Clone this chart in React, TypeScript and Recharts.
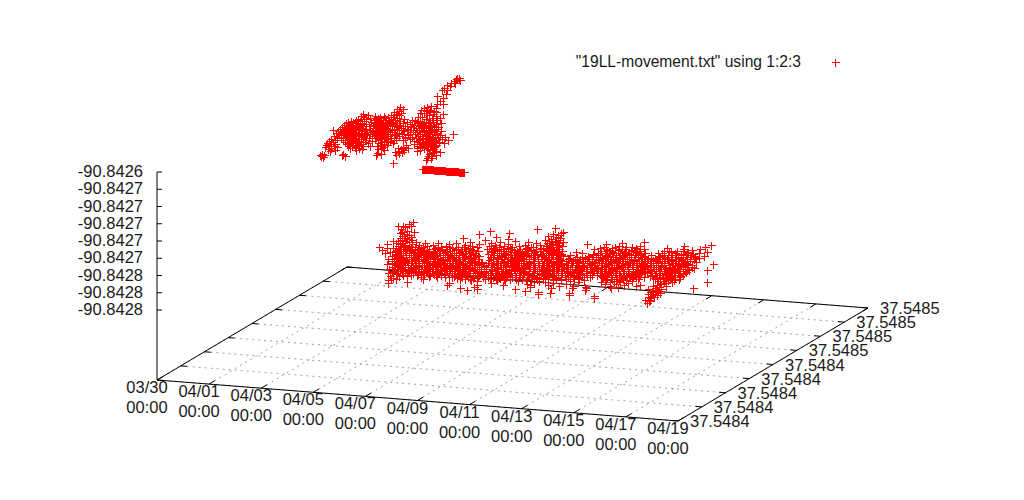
import { ScatterChart, Scatter, XAxis, YAxis, ReferenceLine } from "recharts";

const seriesName = '"19LL-movement.txt" using 1:2:3';
const dateTop = ["03/30", "04/01", "04/03", "04/05", "04/07", "04/09", "04/11", "04/13", "04/15", "04/17", "04/19"];
const dateBottom = ["00:00", "00:00", "00:00", "00:00", "00:00", "00:00", "00:00", "00:00", "00:00", "00:00", "00:00"];
const latLabels = ["37.5484", "37.5484", "37.5484", "37.5484", "37.5484", "37.5485", "37.5485", "37.5485", "37.5485"];
const lonLabels = ["-90.8426", "-90.8427", "-90.8427", "-90.8427", "-90.8427", "-90.8427", "-90.8428", "-90.8428", "-90.8428"];

// each row: [view y, view x values]
const upperCloud: [number, number[]][] = [
  [78, [459, 457]], [79, [456]], [80, [460]], [81, [454]], [83, [451, 455]], [85, [447]], [86, [450]], [88, [444]],
  [90, [447, 442]], [94, [446]], [96, [437]], [98, [443]], [101, [440]], [104, [437, 443]], [106, [431]],
  [107, [400, 427]], [108, [424, 436]], [109, [397, 403]], [110, [421, 430]], [111, [399, 434, 426]], [112, [394, 436, 429]],
  [113, [401, 420, 424]], [114, [363, 396, 433, 443]], [115, [368, 391, 399, 427]], [116, [361, 375, 384, 436]],
  [117, [364, 380, 393, 388, 418, 422]], [118, [378, 370, 385, 397, 432, 440]], [119, [358, 366, 376, 391, 404, 426]],
  [120, [356, 374, 381, 386, 395, 412, 429, 437]], [121, [351, 360, 364, 378, 389, 400, 420, 415]],
  [122, [353, 348, 371, 383, 392, 407, 424, 433]], [123, [346, 356, 362, 375, 380, 387, 396, 403, 418, 428, 441]],
  [124, [349, 358, 366, 377, 385, 390, 410, 422, 436]], [125, [344, 352, 360, 373, 382, 394, 399, 414, 426, 431]],
  [126, [347, 355, 363, 369, 379, 388, 392, 405, 419, 434]], [127, [342, 351, 358, 376, 384, 397, 411, 423, 429, 438]],
  [128, [345, 349, 354, 361, 373, 381, 386, 401, 416, 426, 421]], [129, [340, 356, 347, 365, 378, 390, 394, 407, 431, 436]],
  [130, [333, 343, 352, 359, 370, 375, 383, 399, 413, 419, 428]], [131, [338, 346, 350, 362, 372, 380, 388, 404, 424, 434, 441]],
  [132, [341, 355, 348, 367, 377, 385, 392, 410, 417, 430, 422]], [133, [336, 344, 353, 358, 364, 374, 382, 397, 427, 437]],
  [134, [339, 347, 351, 361, 370, 379, 390, 402, 415, 420, 432, 453]], [135, [343, 356, 349, 366, 376, 384, 394, 408, 425, 435, 440]],
  [136, [334, 346, 353, 359, 372, 381, 387, 399, 418, 429, 422]], [137, [341, 350, 363, 378, 384, 405, 412, 433, 438, 445]],
  [138, [337, 345, 355, 348, 369, 375, 391, 396, 416, 426, 420]], [139, [331, 352, 358, 361, 380, 386, 410, 423, 431, 442]],
  [140, [335, 343, 347, 355, 366, 378, 394, 403, 419, 428, 436, 448]], [141, [329, 350, 359, 372, 384, 390, 414, 425, 433]],
  [142, [333, 345, 353, 363, 381, 388, 417, 422, 430, 439]], [143, [327, 349, 356, 368, 378, 393, 420, 427, 436, 444]],
  [144, [331, 335, 347, 361, 384, 414, 424, 432, 419]], [145, [326, 352, 358, 380, 387, 406, 428, 436, 422]],
  [146, [329, 334, 348, 363, 370, 377, 417, 426, 431]], [147, [325, 337, 355, 383, 403, 420, 434, 428]],
  [148, [331, 350, 359, 381, 408, 398, 424, 417]], [149, [328, 362, 378, 401, 427, 433]], [150, [335, 356, 384, 404, 420, 430]],
  [151, [330, 398, 417, 436]], [152, [395, 402, 434, 440]], [153, [377, 399, 432]], [154, [322, 343, 381, 429]],
  [155, [320, 324, 342, 376, 396, 436]], [156, [321, 345, 432, 428]], [157, [323]], [158, [427, 431]], [160, [426]], [163, [393]],
];

const stripCloud: [number, number[]][] = [
  [169, [422, 423, 424, 425, 426, 427, 428, 429, 430, 431, 432, 433]],
  [170, [434, 435, 436, 437, 438, 439, 440, 441, 442, 443, 444, 445]],
  [171, [446, 447, 448, 449, 450, 451, 452, 453, 454, 455, 456, 457, 458]],
  [172, [459, 460, 461, 462, 463, 464]],
];

const lowerCloud: [number, number[]][] = [
  [222, [413]], [224, [409]], [226, [403, 398, 411]], [227, [405]], [228, [555]], [229, [537, 401]], [231, [490, 407]], [232, [414, 563, 402]],
  [233, [509, 561, 400]], [234, [479, 553, 404]], [235, [558, 409]], [236, [402, 548]], [237, [496, 411, 556]], [238, [463, 400, 405, 560]],
  [239, [508, 551, 407]], [240, [402, 485, 412, 545, 558]], [241, [393, 515, 398, 405, 549, 555]],
  [242, [409, 416, 470, 500, 528, 644, 552, 563]], [243, [396, 403, 425, 438, 456, 491, 536, 547, 559, 622]],
  [244, [387, 400, 412, 449, 479, 508, 553, 587, 606]], [245, [405, 419, 433, 465, 495, 525, 540, 551, 557, 711]],
  [246, [398, 409, 427, 446, 472, 489, 504, 519, 546, 562, 619, 640, 684]], [247, [379, 401, 415, 441, 458, 477, 499, 512, 531, 556, 604, 626, 705]],
  [248, [387, 393, 406, 421, 435, 452, 468, 493, 508, 526, 541, 550, 600, 636, 612, 667]], [249, [403, 412, 429, 446, 462, 487, 503, 520, 536, 559, 594, 625, 644, 683, 700]],
  [250, [382, 396, 409, 417, 424, 440, 456, 473, 497, 514, 531, 546, 553, 607, 618, 631, 692]], [251, [400, 405, 433, 450, 466, 478, 506, 525, 540, 562, 601, 639, 664, 677]],
  [252, [390, 397, 413, 420, 428, 445, 459, 491, 511, 520, 534, 549, 557, 576, 612, 624, 635, 671, 688, 707]], [253, [385, 403, 409, 437, 454, 469, 475, 499, 516, 528, 543, 582, 605, 620, 645, 658, 699]],
  [254, [395, 418, 424, 431, 448, 463, 488, 505, 523, 537, 552, 561, 593, 610, 629, 640, 681, 693]], [255, [401, 411, 440, 456, 471, 494, 510, 531, 546, 556, 570, 600, 616, 635, 651, 668, 676, 686]],
  [256, [392, 398, 416, 426, 435, 450, 465, 479, 501, 518, 526, 541, 563, 588, 607, 623, 644, 660, 695, 704]], [257, [406, 413, 421, 443, 459, 474, 490, 508, 535, 551, 577, 596, 613, 631, 638, 672, 683, 690]],
  [258, [396, 402, 428, 438, 452, 468, 497, 514, 521, 544, 558, 569, 585, 603, 620, 648, 655, 665, 678, 699]], [259, [388, 409, 418, 433, 447, 462, 478, 504, 529, 538, 553, 580, 592, 610, 627, 642, 662, 687, 694]],
  [260, [399, 405, 424, 442, 456, 471, 489, 511, 519, 547, 560, 573, 599, 616, 634, 653, 671, 681]], [261, [392, 412, 419, 430, 450, 465, 496, 524, 533, 542, 566, 587, 606, 622, 639, 647, 668, 676, 690]],
  [262, [397, 403, 426, 437, 459, 475, 482, 503, 515, 529, 551, 557, 578, 594, 612, 629, 658, 684, 696]], [263, [408, 415, 422, 444, 453, 469, 488, 508, 521, 538, 546, 571, 583, 601, 618, 636, 650, 664, 673]],
  [264, [387, 394, 400, 432, 440, 462, 479, 494, 513, 527, 554, 562, 590, 608, 625, 643, 678, 688, 713]], [265, [405, 411, 427, 447, 457, 472, 500, 518, 534, 543, 567, 576, 597, 614, 632, 656, 669, 692]],
  [266, [398, 418, 435, 451, 466, 484, 506, 524, 549, 559, 583, 604, 621, 640, 647, 661, 683, 675]], [267, [392, 408, 424, 441, 460, 475, 491, 511, 530, 539, 553, 572, 590, 611, 628, 636, 653, 687]],
  [268, [401, 414, 429, 446, 455, 469, 497, 517, 525, 546, 564, 579, 598, 617, 644, 666, 677, 694, 672]], [269, [389, 395, 419, 436, 450, 464, 479, 486, 503, 535, 557, 570, 586, 606, 623, 633, 659, 683]],
  [270, [405, 411, 426, 442, 459, 473, 492, 509, 521, 542, 550, 576, 593, 613, 640, 650, 668, 675, 689, 707]], [271, [398, 416, 432, 447, 454, 468, 498, 515, 529, 537, 561, 582, 600, 619, 628, 656, 664, 680]],
  [272, [392, 408, 423, 438, 463, 477, 484, 505, 524, 546, 567, 574, 590, 608, 635, 645, 672, 686]], [273, [388, 402, 428, 444, 452, 470, 491, 511, 519, 534, 554, 562, 597, 615, 624, 652, 660, 678]],
  [274, [396, 418, 434, 458, 466, 480, 499, 507, 528, 541, 549, 570, 580, 604, 631, 640, 667, 683]], [275, [411, 424, 441, 449, 473, 490, 515, 523, 537, 558, 565, 587, 611, 620, 655, 674, 662]],
  [276, [390, 399, 407, 429, 454, 461, 478, 496, 505, 531, 545, 552, 573, 601, 626, 636, 669, 680, 650]], [277, [421, 437, 445, 468, 488, 512, 520, 527, 561, 568, 584, 607, 616, 644, 657, 675]],
  [278, [393, 391, 457, 473, 500, 536, 543, 556, 578, 603, 622, 632, 663, 671, 653]], [279, [423, 460, 465, 490, 510, 531, 548, 566, 574, 612, 638, 660, 679]],
  [280, [388, 471, 497, 505, 526, 553, 561, 584, 606, 626, 619, 668, 674]], [281, [477, 518, 539, 570, 614, 632, 658, 664]],
  [282, [407, 534, 545, 578, 601, 610, 620, 672, 707]], [283, [388, 449, 491, 553, 628, 666, 660]], [284, [527, 566, 605, 616, 661]],
  [285, [447, 477, 503, 530, 548, 624, 640, 657]], [286, [559, 573, 610, 636, 666, 653]], [287, [474, 530, 585, 618, 659]],
  [288, [460, 551, 572, 586, 611, 655, 693]], [289, [477, 515, 648, 661]], [290, [467, 585, 656]],
  [291, [525, 652, 658]], [292, [538, 650, 655]], [293, [550, 569, 660]], [294, [538, 653, 648]], [295, [569, 657]], [296, [651, 594]],
  [297, [654, 648]], [298, [594, 650]], [300, [645, 650]], [301, [649]], [303, [647]],
];

// the solid middle of the lower band, where marks pile up
const lowerCore: [number, number[]][] = [
  [247, [404, 411, 423, 438, 449, 464, 496, 510, 533, 549, 558, 615, 632]],
  [249, [399, 407, 418, 434, 442, 456, 470, 494, 511, 527, 543, 553, 606, 618, 637]],
  [251, [395, 411, 421, 427, 439, 447, 461, 472, 492, 501, 517, 533, 548, 556, 610, 622, 631, 669, 684]],
  [253, [399, 414, 425, 433, 443, 459, 465, 494, 504, 522, 533, 548, 556, 598, 613, 626, 636, 662, 675, 687]],
  [255, [395, 406, 419, 429, 436, 445, 452, 462, 476, 499, 506, 515, 524, 537, 542, 551, 561, 593, 606, 622, 629, 641, 664, 681, 691]],
  [257, [400, 409, 417, 426, 434, 448, 454, 464, 470, 493, 502, 512, 519, 529, 544, 556, 582, 589, 602, 608, 619, 625, 644, 659, 668, 678, 695]],
  [259, [394, 403, 414, 423, 428, 438, 443, 453, 458, 468, 473, 491, 498, 510, 516, 524, 534, 544, 549, 559, 568, 575, 587, 598, 605, 615, 622, 634, 648, 656, 667, 675, 681]],
  [261, [397, 407, 415, 424, 435, 440, 445, 455, 460, 470, 475, 501, 507, 513, 519, 529, 538, 548, 556, 561, 572, 579, 592, 601, 611, 617, 627, 634, 653, 662, 672, 681, 685]],
  [263, [392, 400, 403, 411, 418, 428, 433, 439, 449, 458, 463, 474, 481, 493, 498, 504, 513, 517, 526, 533, 542, 551, 557, 566, 577, 589, 595, 606, 612, 623, 630, 641, 645, 656, 669, 679, 685]],
  [265, [395, 401, 416, 422, 433, 438, 443, 452, 462, 467, 477, 486, 492, 496, 505, 512, 523, 529, 539, 548, 553, 562, 572, 582, 587, 592, 602, 609, 619, 627, 637, 644, 651, 661, 675, 681, 687]],
  [267, [397, 403, 413, 419, 429, 436, 446, 451, 456, 465, 470, 481, 486, 496, 501, 506, 516, 521, 525, 535, 544, 548, 558, 563, 568, 578, 584, 595, 601, 606, 616, 622, 633, 641, 647, 658, 664, 670, 680, 692]],
  [269, [400, 405, 410, 414, 425, 430, 441, 445, 455, 459, 469, 474, 491, 497, 509, 514, 519, 524, 529, 541, 546, 552, 562, 566, 575, 581, 591, 596, 601, 612, 617, 628, 638, 645, 654, 664, 670, 677, 688]],
  [271, [393, 403, 409, 421, 427, 437, 442, 459, 463, 473, 479, 486, 492, 503, 509, 520, 525, 533, 542, 547, 552, 556, 567, 572, 577, 587, 594, 605, 610, 623, 633, 638, 644, 651, 660, 669, 675, 685]],
  [273, [397, 407, 413, 418, 423, 433, 439, 449, 457, 464, 475, 481, 486, 496, 502, 507, 515, 524, 529, 539, 544, 549, 568, 573, 580, 586, 592, 602, 609, 619, 629, 635, 641, 647, 656, 665, 672, 683]],
  [275, [403, 417, 430, 436, 455, 461, 467, 479, 485, 495, 501, 507, 510, 519, 529, 532, 543, 549, 553, 570, 576, 582, 592, 597, 606, 616, 626, 632, 638, 650, 659, 668, 679]],
  [277, [452, 462, 473, 483, 493, 500, 506, 516, 532, 537, 548, 556, 573, 579, 590, 602, 611, 621, 627, 633, 639, 663, 670, 680]],
  [279, [396, 470, 485, 496, 504, 516, 522, 537, 543, 553, 561, 579, 605, 617, 623, 632, 655, 665, 672]],
];

const upperCore: [number, number[]][] = [
  [122, [377, 388, 417, 430]],
  [126, [352, 373, 383, 396, 410, 423, 430]],
  [130, [348, 355, 366, 379, 392, 403, 408, 424, 432]],
  [134, [355, 344, 366, 384, 395, 410, 425, 437]],
  [138, [341, 352, 365, 385, 405, 430, 435]],
  [142, [349, 357, 384, 426, 434]],
  [146, [352, 381, 422, 435]],
];

const cloudPoints = [...lowerCloud, ...lowerCore, ...upperCloud, ...upperCore, ...stripCloud].flatMap(([y, xs]) =>
  xs.map((x) => ({ x, y }))
);

// floor of the splot box in the view plane
const origin = { x: 157, y: 380 };
const dateEdge = { x: 521, y: 41 };
const latEdge = { x: 190, y: -113 };
const floor = (u: number, v: number) => ({
  x: origin.x + u * dateEdge.x + v * latEdge.x,
  y: origin.y + u * dateEdge.y + v * latEdge.y,
});

const dateFracs = dateTop.map((_, i) => i / (dateTop.length - 1));
const latFracs = latLabels.map((_, i) => i / (latLabels.length - 1));
const zTop = 172;
const zStep = 17.25;

const dateTopPoints = dateTop.map((text, i) => {
  const p = floor(dateFracs[i], 0);
  return { x: p.x - 10, y: p.y + 7, text };
});
const dateBottomPoints = dateBottom.map((text, i) => {
  const p = floor(dateFracs[i], 0);
  return { x: p.x - 10, y: p.y + 27, text };
});
const latPoints = latLabels.map((text, i) => {
  const p = floor(1, latFracs[i]);
  return { x: p.x + 12, y: p.y, text };
});
const lonPoints = lonLabels.map((text, i) => ({ x: 143, y: zTop - 1 + i * zStep, text }));
const legendText = [{ x: 801, y: 61, text: seriesName }];
const legendMark = [{ x: 835, y: 62 }];

function Plus({ cx, cy }: any) {
  const px = Math.round(cx) + 0.5;
  const py = Math.round(cy) + 0.5;
  return (
    <path
      d={`M${px - 4} ${py}H${px + 4}M${px} ${py - 4}V${py + 4}`}
      stroke="#ff0000"
      strokeWidth={1}
      fill="none"
      shapeRendering="crispEdges"
    />
  );
}

const labelShape = (anchor: "start" | "middle" | "end", fontSize = 16.5) =>
  function Label({ cx, cy, payload }: any) {
    return (
      <text
        x={cx}
        y={cy}
        textAnchor={anchor}
        dominantBaseline="central"
        fontFamily="'Liberation Sans', Arial, sans-serif"
        fontSize={fontSize}
        fill="#1a1a1a"
      >
        {payload.text}
      </text>
    );
  };

export default function App() {
  const grid: any[] = [];
  dateFracs.forEach((u) => grid.push([floor(u, 0), floor(u, 1)]));
  latFracs.forEach((v) => grid.push([floor(0, v), floor(1, v)]));

  const ticks: any[] = [];
  dateFracs.forEach((u) => {
    ticks.push([floor(u, 0), floor(u, 0.03)]);
    ticks.push([floor(u, 1), floor(u, 0.97)]);
  });
  latFracs.forEach((v) => {
    ticks.push([floor(0, v), floor(0.012, v)]);
    ticks.push([floor(1, v), floor(0.988, v)]);
  });
  lonLabels.forEach((_, i) => {
    const y = zTop + i * zStep;
    ticks.push([{ x: origin.x, y }, { x: origin.x + 5, y }]);
  });

  const border = [
    [floor(0, 0), floor(1, 0)],
    [floor(0, 0), floor(0, 1)],
    [floor(1, 0), floor(1, 1)],
    [floor(0, 1), floor(1, 1)],
    [{ x: origin.x, y: zTop }, origin],
  ];

  return (
    <div style={{ position: "absolute", left: 0, top: 0, background: "#fff" }}>
      <ScatterChart width={1024} height={500} margin={{ top: 0, right: 0, bottom: 0, left: 0 }}>
        <XAxis type="number" dataKey="x" domain={[0, 1024]} hide />
        <YAxis type="number" dataKey="y" domain={[0, 500]} reversed hide />
        {grid.map((s, i) => (
          <ReferenceLine key={`g${i}`} segment={s} ifOverflow="visible" stroke="#a0a0a0" strokeDasharray="2 4" />
        ))}
        {border.map((s, i) => (
          <ReferenceLine key={`b${i}`} segment={s} ifOverflow="visible" stroke="#000" />
        ))}
        {ticks.map((s, i) => (
          <ReferenceLine key={`t${i}`} segment={s} ifOverflow="visible" stroke="#000" />
        ))}
        <Scatter name={seriesName} data={cloudPoints} shape={Plus} isAnimationActive={false} />
        <Scatter data={legendMark} shape={Plus} isAnimationActive={false} />
        <Scatter data={lonPoints} shape={labelShape("end")} isAnimationActive={false} />
        <Scatter data={dateTopPoints} shape={labelShape("middle")} isAnimationActive={false} />
        <Scatter data={dateBottomPoints} shape={labelShape("middle")} isAnimationActive={false} />
        <Scatter data={latPoints} shape={labelShape("start")} isAnimationActive={false} />
        <Scatter data={legendText} shape={labelShape("end", 15.6)} isAnimationActive={false} />
      </ScatterChart>
    </div>
  );
}
